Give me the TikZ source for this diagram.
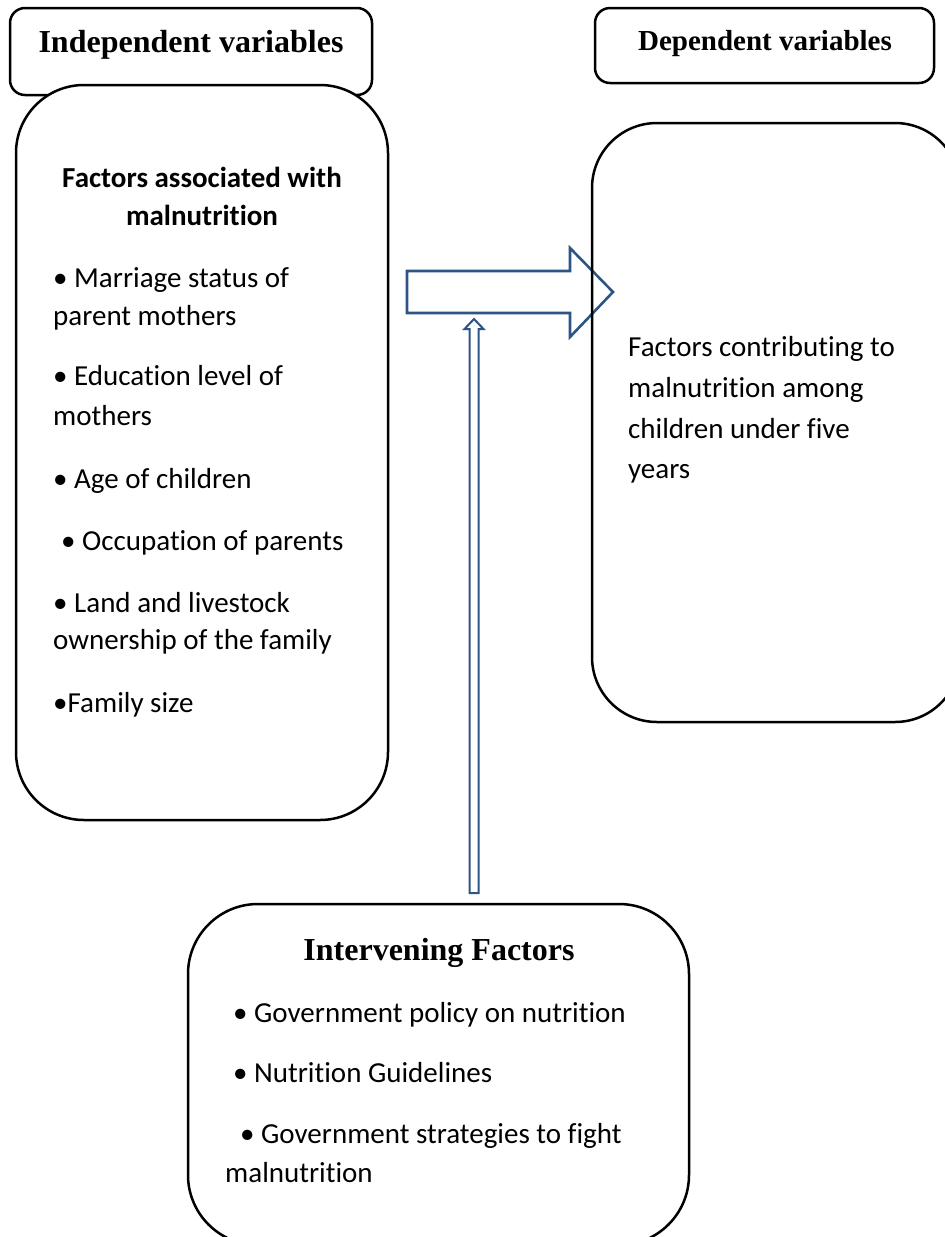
\documentclass[tikz,border=0pt]{standalone}
\usepackage{fontspec}
\setmainfont{Carlito}[Ligatures={NoCommon}]
\newfontfamily\timesf{Liberation Serif}
\usetikzlibrary{calc}
\definecolor{arrowblue}{RGB}{44,84,132}
\begin{document}
\begin{tikzpicture}[x=1pt,y=-1pt,
  hdrbox/.style={draw=black,line width=2.5pt,fill=white,rounded corners=15pt,inner sep=0pt},
  bigbox/.style={draw=black,line width=2.5pt,inner sep=0pt},
  hdrtxt/.style={font=\timesf\bfseries\fontsize{32}{38}\selectfont,inner sep=0pt,anchor=base},
  hdrtxtsm/.style={font=\timesf\bfseries\fontsize{29}{35}\selectfont,inner sep=0pt,anchor=base},
  boldtxt/.style={font=\bfseries\fontsize{29}{36}\selectfont,inner sep=0pt,anchor=base},
  txt/.style={font=\fontsize{29}{36}\selectfont,inner sep=0pt,anchor=base west},
  blockarrow/.style={draw=arrowblue,line width=2.6pt,fill=white,line join=miter}]
\clip (0,0) rectangle (945,1237);
% Block arrow (hollow, pointing right), drawn under the boxes
\coordinate (bastart) at (407,292);
\coordinate (batip) at (613,292);
\draw[blockarrow]
  ($(bastart)+(0,-21)$) -- ($(batip)+(-43,-21)$) -- ($(batip)+(-43,-44)$) -- (batip)
  -- ($(batip)+(-43,45)$) -- ($(batip)+(-43,21)$) -- ($(bastart)+(0,21)$) -- cycle;
% Independent
\node[hdrbox,minimum width=362pt,minimum height=87pt] (indhdr) at (191,51.5) {};
\node[hdrtxt] (indhdrtxt) at (191,52) {Independent variables};
\node[bigbox,fill=white,rounded corners=68pt,minimum width=372pt,minimum height=735pt] (indep) at (202,452.5) {};
\node[boldtxt] (f1) at (202,187) {Factors associated with};
\node[boldtxt] (f2) at (202,225) {malnutrition};
\node[txt] (i1) at (53,287) {• Marriage status of};
\node[txt] (i2) at (53,325) {parent mothers};
\node[txt] (i3) at (53,385) {• Education level of};
\node[txt] (i4) at (53,425) {mothers};
\node[txt] (i5) at (53,488) {• Age of children};
\node[txt] (i6) at (61,550) {• Occupation of parents};
\node[txt] (i7) at (53,612) {• Land and livestock};
\node[txt] (i8) at (53,649) {ownership of the family};
\node[txt] (i9) at (53,712) {•Family size};
% Dependent
\node[hdrbox,minimum width=339pt,minimum height=75pt] (dephdr) at (764.5,45.5) {};
\node[hdrtxtsm] (dephdrtxt) at (765,50) {Dependent variables};
\node[bigbox,rounded corners=65pt,minimum width=368pt,minimum height=599pt] (dep) at (776,422.5) {};
\node[txt] (d1) at (628,356) {Factors contributing to};
\node[txt] (d2) at (628,397) {malnutrition among};
\node[txt] (d3) at (628,438) {children under five};
\node[txt] (d4) at (628,478) {years};
% Intervening
\node[bigbox,fill=white,rounded corners=70pt,minimum width=501pt,minimum height=341pt] (interv) at (438.5,1074.5) {};
\node[hdrtxt] (intervtxt) at (439,960) {Intervening Factors};
\node[txt] (v1) at (233,1022) {• Government policy on nutrition};
\node[txt] (v2) at (233,1082) {• Nutrition Guidelines};
\node[txt] (v3) at (240,1143) {• Government strategies to fight};
\node[txt] (v4) at (225,1182) {malnutrition};
% Up arrow (hollow)
\coordinate (upbot) at (474,893);
\coordinate (uptop) at (474,319);
\draw[arrowblue,line width=2pt,line join=miter]
  ($(upbot)+(-4.5,0)$) -- ($(uptop)+(-4.5,10)$) -- ($(uptop)+(-9.5,10)$) -- (uptop)
  -- ($(uptop)+(9.5,10)$) -- ($(uptop)+(4.5,10)$) -- ($(upbot)+(4.5,0)$) -- cycle;
\end{tikzpicture}
\end{document}
